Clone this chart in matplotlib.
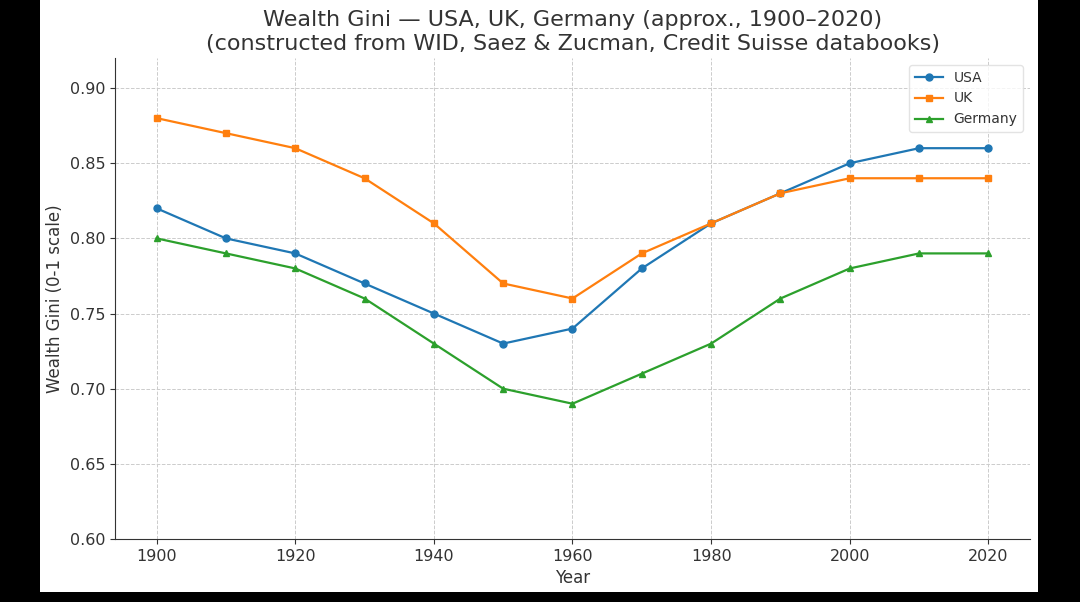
import matplotlib
matplotlib.use("Agg")
import matplotlib.pyplot as plt
from matplotlib.patches import Rectangle

years = [1900, 1910, 1920, 1930, 1940, 1950, 1960, 1970, 1980, 1990, 2000, 2010, 2020]
usa = [0.82, 0.80, 0.79, 0.77, 0.75, 0.73, 0.74, 0.78, 0.81, 0.83, 0.85, 0.86, 0.86]
uk = [0.88, 0.87, 0.86, 0.84, 0.81, 0.77, 0.76, 0.79, 0.81, 0.83, 0.84, 0.84, 0.84]
germany = [0.80, 0.79, 0.78, 0.76, 0.73, 0.70, 0.69, 0.71, 0.73, 0.76, 0.78, 0.79, 0.79]
yticks = [0.60, 0.65, 0.70, 0.75, 0.80, 0.85, 0.90]
xticks = [1900, 1920, 1940, 1960, 1980, 2000, 2020]

txt = "#333333"
fig = plt.figure(figsize=(10.8, 6.02), dpi=100, facecolor="black")
bg = Rectangle((40/1080, 10/602), 998/1080, 592/602, transform=fig.transFigure,
               facecolor="white", edgecolor="none", zorder=-10)
fig.add_artist(bg)
ax = fig.add_axes([115/1080, 1 - 539/602, 915/1080, 481/602])
ax.set_zorder(1)
ax.set_facecolor("white")

ax.plot(years, usa, marker="o", markersize=5, color="#1f77b4", linewidth=1.6, label="USA")
ax.plot(years, uk, marker="s", markersize=5, color="#ff7f0e", linewidth=1.6, label="UK")
ax.plot(years, germany, marker="^", markersize=5, color="#2ca02c", linewidth=1.6, label="Germany")

ax.set_xlim(1894, 2026)
ax.set_ylim(0.60, 0.92)
ax.set_xticks(xticks)
ax.set_yticks(yticks)
ax.set_yticklabels([f"{v:.2f}" for v in yticks])
ax.grid(True, linestyle="--", color="#cccccc", linewidth=0.7)
for s in ["top", "right"]:
    ax.spines[s].set_visible(False)
for s in ["left", "bottom"]:
    ax.spines[s].set_color(txt)
ax.tick_params(colors=txt, labelsize=11.5, labelcolor=txt)
ax.set_xlabel("Year", fontsize=12, color=txt)
ax.set_ylabel("Wealth Gini (0-1 scale)", fontsize=12, color=txt)
ax.set_title("Wealth Gini — USA, UK, Germany (approx., 1900–2020)\n(constructed from WID, Saez & Zucman, Credit Suisse databooks)",
             fontsize=16, color=txt, pad=6)
leg = ax.legend(loc="upper right", fontsize=10, labelcolor=txt)
leg.get_frame().set_edgecolor("#dddddd")

fig.savefig("out.png", dpi=100, facecolor=fig.get_facecolor())
